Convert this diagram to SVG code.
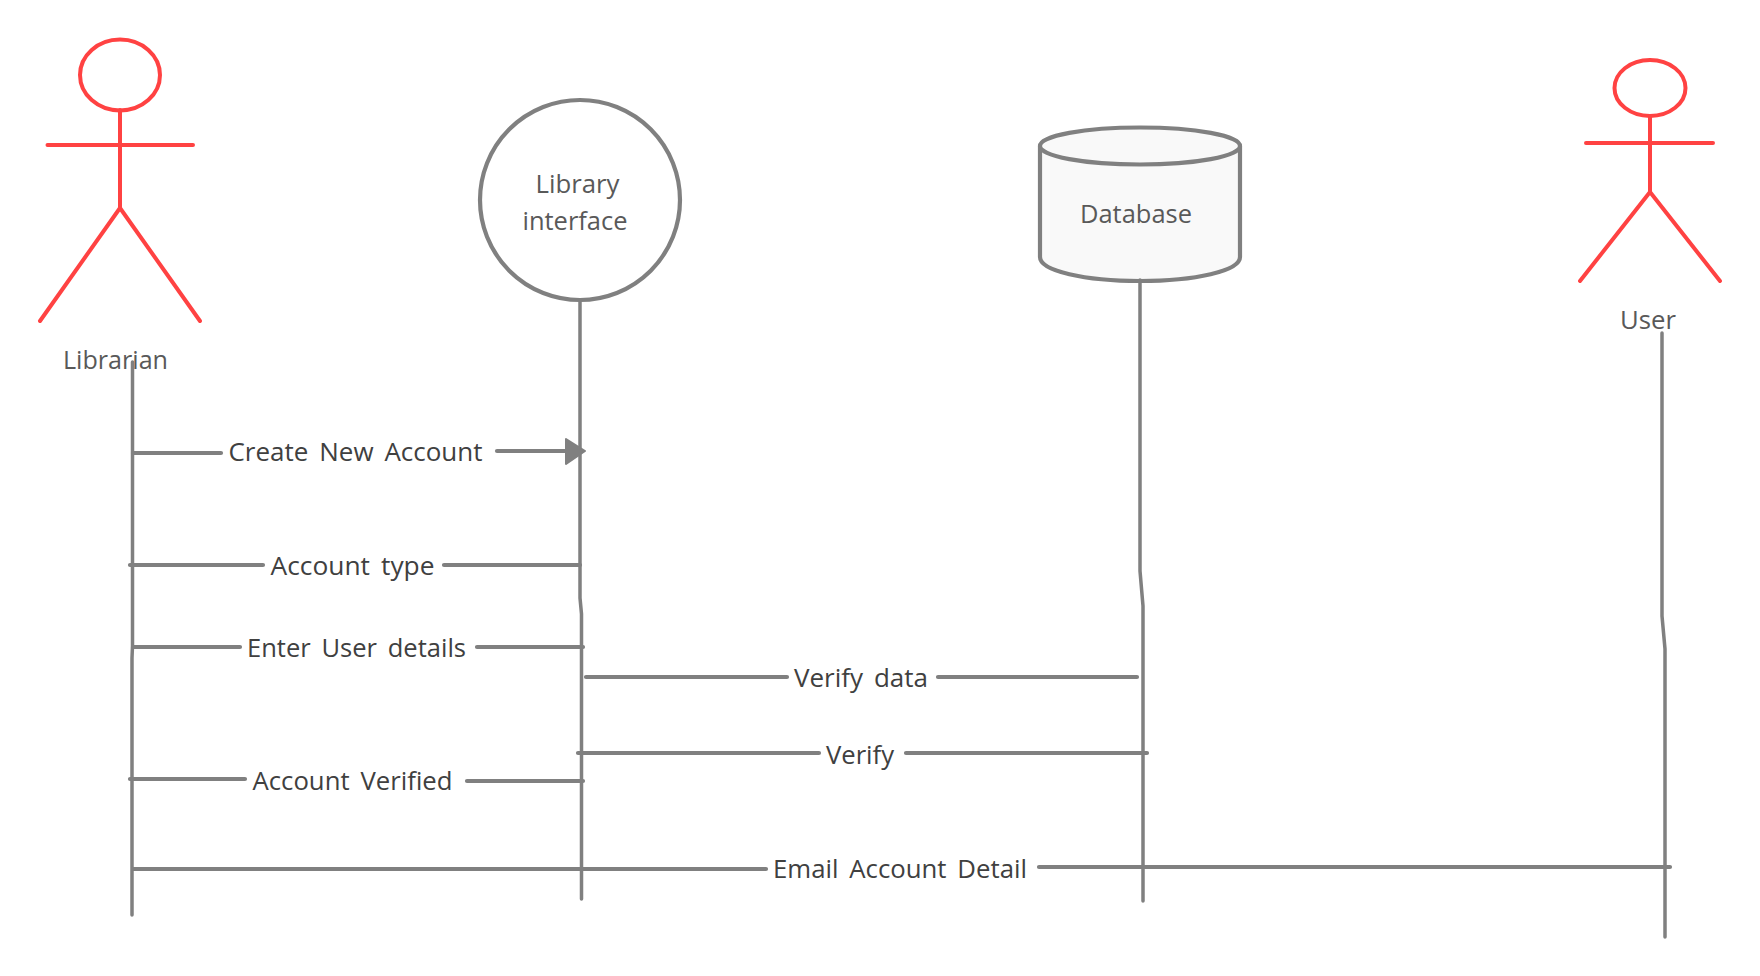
<svg xmlns="http://www.w3.org/2000/svg" width="1760" height="976" viewBox="0 0 1760 976">
<style>
.actor{fill:none;stroke:#ff4242;stroke-width:4;stroke-linecap:round;stroke-linejoin:round}
.shape{stroke:#808080;stroke-width:4.200}
.life{fill:none;stroke:#808080;stroke-width:3.500;stroke-linecap:round;stroke-linejoin:round}
.msg{fill:none;stroke:#808080;stroke-width:4.200;stroke-linecap:round}
text{font-family:"Open Sans","Noto Sans","Liberation Sans",sans-serif;font-size:25px}
.nl{fill:#595959}
.ml{fill:#404040;word-spacing:4px}
</style>
<rect width="1760" height="976" fill="#ffffff"/>
<g id="librarian">
<ellipse class="actor" cx="120" cy="75" rx="40" ry="35.500"/>
<path class="actor" d="M120 110V207M47.500 145H193M40 321L120 208L200 321"/>
<text class="nl" x="63" y="369" textLength="105" lengthAdjust="spacingAndGlyphs">Librarian</text>
</g>
<g id="library-interface">
<circle class="shape" cx="580" cy="200" r="100" fill="#ffffff"/>
<text class="nl" x="535.500" y="193" textLength="84" lengthAdjust="spacingAndGlyphs">Library</text>
<text class="nl" x="522.500" y="230" textLength="105" lengthAdjust="spacingAndGlyphs">interface</text>
</g>
<g id="database">
<path class="shape" fill="#f9f9f9" d="M1040 146V257C1040 271 1085 281 1140 281C1195 281 1240 271 1240 257V146"/>
<ellipse class="shape" fill="#f9f9f9" cx="1140" cy="146" rx="100" ry="18.500"/>
<text class="nl" x="1080" y="223" textLength="112" lengthAdjust="spacingAndGlyphs">Database</text>
</g>
<g id="user">
<ellipse class="actor" cx="1650" cy="88" rx="35.500" ry="28"/>
<path class="actor" d="M1650 116V192M1586 143H1713M1580 281L1650 192L1720 281"/>
<text class="nl" x="1620" y="329" textLength="56" lengthAdjust="spacingAndGlyphs">User</text>
</g>
<g id="connectors">
<path class="life" d="M132.500 362V646L132 658V915"/>
<path class="life" d="M580 300V598L581.500 614V899"/>
<path class="life" d="M1140 280V571L1143 606V901"/>
<path class="life" d="M1662 333V616L1665 649V937"/>
<path class="msg" d="M133 453H221"/>
<path class="msg" d="M497 451H570"/>
<path d="M566 439L585 451L566 464Z" fill="#808080" stroke="#808080" stroke-width="2" stroke-linejoin="round"/>
<path class="msg" d="M130 565H263M444 565H580"/>
<path class="msg" d="M133 647H240M477 647H583"/>
<path class="msg" d="M586 677H787M938 677H1137"/>
<path class="msg" d="M578 753H819M906 753H1147"/>
<path class="msg" d="M130 779H245M467 781H583"/>
<path class="msg" d="M133 869H766M1039 867H1670"/>
</g>
<g id="labels">
<text class="ml" x="228.500" y="461" textLength="254" lengthAdjust="spacingAndGlyphs">Create New Account</text>
<text class="ml" x="270.500" y="575" textLength="164" lengthAdjust="spacingAndGlyphs">Account type</text>
<text class="ml" x="247" y="657" textLength="219" lengthAdjust="spacingAndGlyphs">Enter User details</text>
<text class="ml" x="794" y="687" textLength="134" lengthAdjust="spacingAndGlyphs">Verify data</text>
<text class="ml" x="826" y="764" textLength="68" lengthAdjust="spacingAndGlyphs">Verify</text>
<text class="ml" x="252.500" y="790" textLength="200" lengthAdjust="spacingAndGlyphs">Account Verified</text>
<text class="ml" x="773" y="878" textLength="254" lengthAdjust="spacingAndGlyphs">Email Account Detail</text>
</g>
</svg>
